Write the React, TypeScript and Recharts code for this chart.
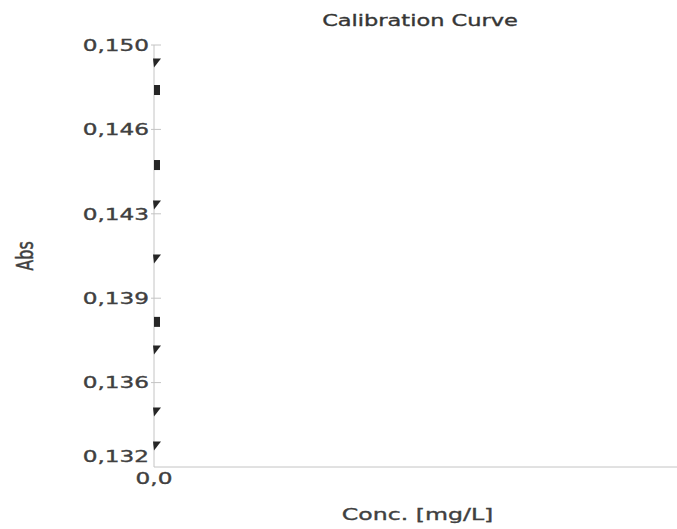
import React from "react";
import { ScatterChart, Scatter, XAxis, YAxis } from "recharts";

// ---- data ----
const triangleAbs = [0.14923, 0.14318, 0.14087, 0.13699, 0.13435, 0.1329];
const squareAbs = [0.14808, 0.14488, 0.13819];
const triangleConc = [0, 0, 0, 0, 0, 0];
const squareConc = [0, 0, 0];
const yTicks = [0.15, 0.1464, 0.1428, 0.1392, 0.1356, 0.132];
const yTickLabels = ["0,150", "0,146", "0,143", "0,139", "0,136", "0,132"];
const xTicks = [0];
const xTickLabels = ["0,0"];

const triangleData = triangleAbs.map((v, i) => ({ conc: triangleConc[i], abs: v }));
const squareData = squareAbs.map((v, i) => ({ conc: squareConc[i], abs: v }));

const FONT = "'DejaVu Sans', Verdana, sans-serif";
const TEXT = "#404040";
const AXIS = "#c4c4c4";
const MARK = "#262626";
const SX = 1.45;
const TSTROKE = 0.35;

const YTick = (props: any) => {
  const { x, y, payload, index } = props;
  const isLast = payload.value === yTicks[yTicks.length - 1];
  const label = yTickLabels[yTicks.indexOf(payload.value)] ?? yTickLabels[index];
  return (
    <g>
      {!isLast && <line x1={x - 3} x2={x + 7} y1={y} y2={y} stroke={AXIS} strokeWidth={1} />}
      <text
        transform={`translate(${x - 5},${y + (isLast ? -5 : 5.7)}) scale(${SX},1)`}
        textAnchor="end"
        fontFamily={FONT}
        fontSize={16}
        fill={TEXT}
        stroke={TEXT}
        strokeWidth={TSTROKE}
      >
        {label}
      </text>
    </g>
  );
};

const XTick = (props: any) => {
  const { x, y, payload, index } = props;
  const label = xTickLabels[xTicks.indexOf(payload.value)] ?? xTickLabels[index];
  return (
    <text
      transform={`translate(${x},${y + 17}) scale(${SX},1)`}
      textAnchor="middle"
      fontFamily={FONT}
      fontSize={16}
      fill={TEXT}
      stroke={TEXT}
      strokeWidth={TSTROKE}
    >
      {label}
    </text>
  );
};

const XLabel = (props: any) => {
  const vb = props.viewBox || {};
  const cx = vb.x + vb.width / 2;
  return (
    <text
      transform={`translate(${cx + 2},${vb.y + 53}) scale(${SX},1)`}
      textAnchor="middle"
      fontFamily={FONT}
      fontSize={16.3}
      fill={TEXT}
      stroke={TEXT}
      strokeWidth={TSTROKE}
    >
      Conc. [mg/L]
    </text>
  );
};

const YLabel = (props: any) => {
  const vb = props.viewBox || {};
  const cy = vb.y + vb.height / 2;
  return (
    <text
      transform={`translate(${vb.x + 33},${cy}) scale(${SX},1) rotate(-90)`}
      textAnchor="middle"
      fontFamily={FONT}
      fontSize={16}
      fill={TEXT}
      stroke={TEXT}
      strokeWidth={TSTROKE}
    >
      Abs
    </text>
  );
};

const TriangleMark = (props: any) => {
  const { cx, cy } = props;
  if (cx == null || cy == null) return null;
  const pts = `${cx - 1},${cy - 4.5} ${cx + 7},${cy - 4.5} ${cx},${cy + 4.5}`;
  return <polygon points={pts} fill={MARK} />;
};

const SquareMark = (props: any) => {
  const { cx, cy } = props;
  if (cx == null || cy == null) return null;
  return <rect x={cx} y={cy - 5} width={6} height={10} fill={MARK} />;
};

export default function App() {
  return (
    <div style={{ position: "absolute", left: 0, top: 0, width: 677, height: 529, background: "#fff" }}>
      <div
        style={{
          position: "absolute",
          left: 420,
          top: 11,
          fontFamily: FONT,
          fontSize: 15.5,
          color: "#363636",
          lineHeight: "20px",
          whiteSpace: "nowrap",
          WebkitTextStroke: "0.35px #363636",
          transform: `translateX(-50%) scaleX(${SX})`,
          transformOrigin: "50% 0",
        }}
      >
        Calibration Curve
      </div>
      <ScatterChart width={677} height={529} margin={{ top: 45, right: 0, bottom: 0, left: 0 }}>
        <XAxis
          type="number"
          dataKey="conc"
          domain={[0, 10]}
          ticks={xTicks}
          height={62}
          tickSize={0}
          tickMargin={0}
          tickLine={false}
          axisLine={{ stroke: AXIS, strokeWidth: 1 }}
          tick={<XTick />}
          label={<XLabel />}
        />
        <YAxis
          type="number"
          dataKey="abs"
          domain={[0.132, 0.15]}
          ticks={yTicks}
          width={154}
          tickSize={0}
          tickMargin={0}
          tickLine={false}
          interval={0}
          axisLine={{ stroke: AXIS, strokeWidth: 1 }}
          tick={<YTick />}
          label={<YLabel />}
        />
        <Scatter data={triangleData} shape={<TriangleMark />} isAnimationActive={false} />
        <Scatter data={squareData} shape={<SquareMark />} isAnimationActive={false} />
      </ScatterChart>
    </div>
  );
}
